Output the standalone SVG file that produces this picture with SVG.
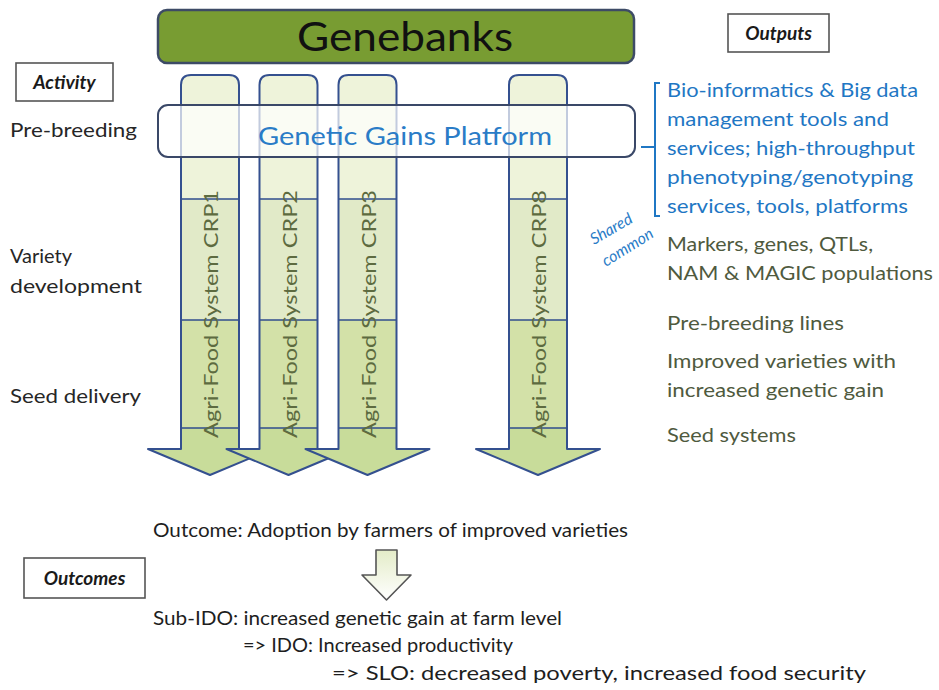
<svg xmlns="http://www.w3.org/2000/svg" width="939" height="690" viewBox="0 0 939 690">
<defs>
<style>
text{font-family:Lato,"Liberation Sans","Noto Sans",sans-serif}
.lbl{font-size:20px;fill:#262626}
.out{font-size:19px;fill:#4f5a3e}
.blue{font-size:19px;fill:#1f77c4}
.hdr{font-size:19px;font-weight:bold;font-style:italic;fill:#1a1a1a}
.hbox{fill:#fff;stroke:#555;stroke-width:1.6}
.coltxt{font-size:20px;fill:#5d6b40}
.sep{stroke:#2f4c8e;stroke-width:1.6}
.bot{font-size:20px;fill:#1e1e1e}
</style>
<linearGradient id="smallArrow" x1="0" y1="0" x2="0" y2="1">
<stop offset="0" stop-color="#e4ecc8"/>
<stop offset="1" stop-color="#ffffff"/>
</linearGradient>
<g id="col">
<path d="M-29,449 L-29,85 Q-29,75 -19,75 L19,75 Q29,75 29,85 L29,449 L62,449 L0,475 L-62,449 Z" fill="#c8dc9a"/>
<path d="M-29,199 L-29,85 Q-29,75 -19,75 L19,75 Q29,75 29,85 L29,199 Z" fill="#eef3da"/>
<rect x="-29" y="199" width="58" height="121" fill="#e1eac8"/>
<rect x="-29" y="320" width="58" height="108" fill="#d3e1a8"/>
<line class="sep" x1="-29" y1="199" x2="29" y2="199"/>
<line class="sep" x1="-29" y1="320" x2="29" y2="320"/>
<line class="sep" x1="-29" y1="428" x2="29" y2="428"/>
<path d="M-29,449 L-29,85 Q-29,75 -19,75 L19,75 Q29,75 29,85 L29,449 L62,449 L0,475 L-62,449 Z" fill="none" stroke="#34508f" stroke-width="2" stroke-linejoin="round"/>
</g>
</defs>
<rect width="939" height="690" fill="#ffffff"/>

<g id="genebanks">
<rect x="158" y="10" width="476" height="53" rx="9" fill="#789c32" stroke="#3d4b66" stroke-width="2.5"/>
<text x="405" y="51" font-size="40" text-anchor="middle" fill="#111" textLength="216" lengthAdjust="spacingAndGlyphs">Genebanks</text>
</g>

<g id="activity-header">
<rect class="hbox" x="16" y="63" width="97" height="38"/>
<text class="hdr" x="64.5" y="89" text-anchor="middle">Activity</text>
</g>
<g id="outputs-header">
<rect class="hbox" x="728" y="14" width="101" height="38"/>
<text class="hdr" x="778.5" y="40" text-anchor="middle">Outputs</text>
</g>
<g id="outcomes-header">
<rect class="hbox" x="24" y="558" width="121" height="40"/>
<text class="hdr" x="84.5" y="585" text-anchor="middle">Outcomes</text>
</g>

<g id="activities">
<text class="lbl" x="10" y="137" textLength="127" lengthAdjust="spacingAndGlyphs">Pre-breeding</text>
<text class="lbl" x="10" y="263">Variety</text>
<text class="lbl" x="10" y="293" textLength="132" lengthAdjust="spacingAndGlyphs">development</text>
<text class="lbl" x="10" y="403" textLength="131" lengthAdjust="spacingAndGlyphs">Seed delivery</text>
</g>

<g id="crp1">
<use href="#col" transform="translate(210,0)"/>
<text class="coltxt" transform="translate(210,314) rotate(-90)" text-anchor="middle" dominant-baseline="central" textLength="248" lengthAdjust="spacingAndGlyphs">Agri-Food System CRP1</text>
</g>
<g id="crp2">
<use href="#col" transform="translate(288.5,0)"/>
<text class="coltxt" transform="translate(288.5,314) rotate(-90)" text-anchor="middle" dominant-baseline="central" textLength="248" lengthAdjust="spacingAndGlyphs">Agri-Food System CRP2</text>
</g>
<g id="crp3">
<use href="#col" transform="translate(367.5,0)"/>
<text class="coltxt" transform="translate(367.5,314) rotate(-90)" text-anchor="middle" dominant-baseline="central" textLength="248" lengthAdjust="spacingAndGlyphs">Agri-Food System CRP3</text>
</g>
<g id="crp8">
<use href="#col" transform="translate(538,0)"/>
<text class="coltxt" transform="translate(538,314) rotate(-90)" text-anchor="middle" dominant-baseline="central" textLength="248" lengthAdjust="spacingAndGlyphs">Agri-Food System CRP8</text>
</g>

<g id="genetic-gains-platform">
<rect x="158" y="105" width="477" height="52" rx="10" fill="#ffffff" fill-opacity="0.7" stroke="#3a4868" stroke-width="2"/>
<text x="405" y="145" font-size="25" text-anchor="middle" fill="#2a7cc7" textLength="294" lengthAdjust="spacingAndGlyphs">Genetic Gains Platform</text>
</g>

<g id="connectors">
<path d="M660,83 L655,83 L655,216 L660,216 M655,147 L641,147" fill="none" stroke="#1f77c4" stroke-width="2"/>
<path d="M376,550 L397,550 L397,575 L411,575 L386.5,600 L362,575 L376,575 Z" fill="url(#smallArrow)" stroke="#555" stroke-width="1.6" stroke-linejoin="round"/>
</g>

<g id="shared-outputs">
<text class="blue" x="667" y="97" textLength="251" lengthAdjust="spacingAndGlyphs">Bio-informatics &amp; Big data</text>
<text class="blue" x="667" y="126" textLength="222" lengthAdjust="spacingAndGlyphs">management tools and</text>
<text class="blue" x="667" y="155" textLength="248" lengthAdjust="spacingAndGlyphs">services; high-throughput</text>
<text class="blue" x="667" y="184" textLength="246" lengthAdjust="spacingAndGlyphs">phenotyping/genotyping</text>
<text class="blue" x="667" y="213" textLength="241" lengthAdjust="spacingAndGlyphs">services, tools, platforms</text>
<text font-size="16" font-style="italic" fill="#2a7cc7" transform="translate(594,245) rotate(-30)">Shared</text>
<text font-size="16" font-style="italic" fill="#2a7cc7" transform="translate(606,267) rotate(-32)">common</text>
</g>

<g id="outputs">
<text class="out" x="667" y="251" textLength="206" lengthAdjust="spacingAndGlyphs">Markers, genes, QTLs,</text>
<text class="out" x="667" y="280" textLength="266" lengthAdjust="spacingAndGlyphs">NAM &amp; MAGIC populations</text>
<text class="out" x="667" y="330" textLength="177" lengthAdjust="spacingAndGlyphs">Pre-breeding lines</text>
<text class="out" x="667" y="368" textLength="229" lengthAdjust="spacingAndGlyphs">Improved varieties with</text>
<text class="out" x="667" y="397" textLength="217" lengthAdjust="spacingAndGlyphs">increased genetic gain</text>
<text class="out" x="667" y="442" textLength="129" lengthAdjust="spacingAndGlyphs">Seed systems</text>
</g>

<g id="outcomes">
<text class="bot" x="153" y="537" textLength="475" lengthAdjust="spacingAndGlyphs">Outcome: Adoption by farmers of improved varieties</text>
<text class="bot" x="153" y="625" textLength="409" lengthAdjust="spacingAndGlyphs">Sub-IDO: increased genetic gain at farm level</text>
<text class="bot" x="243" y="652" textLength="270" lengthAdjust="spacingAndGlyphs">=&gt; IDO: Increased productivity</text>
<text class="bot" x="332" y="680" textLength="534" lengthAdjust="spacingAndGlyphs">=&gt; SLO: decreased poverty, increased food security</text>
</g>
</svg>
